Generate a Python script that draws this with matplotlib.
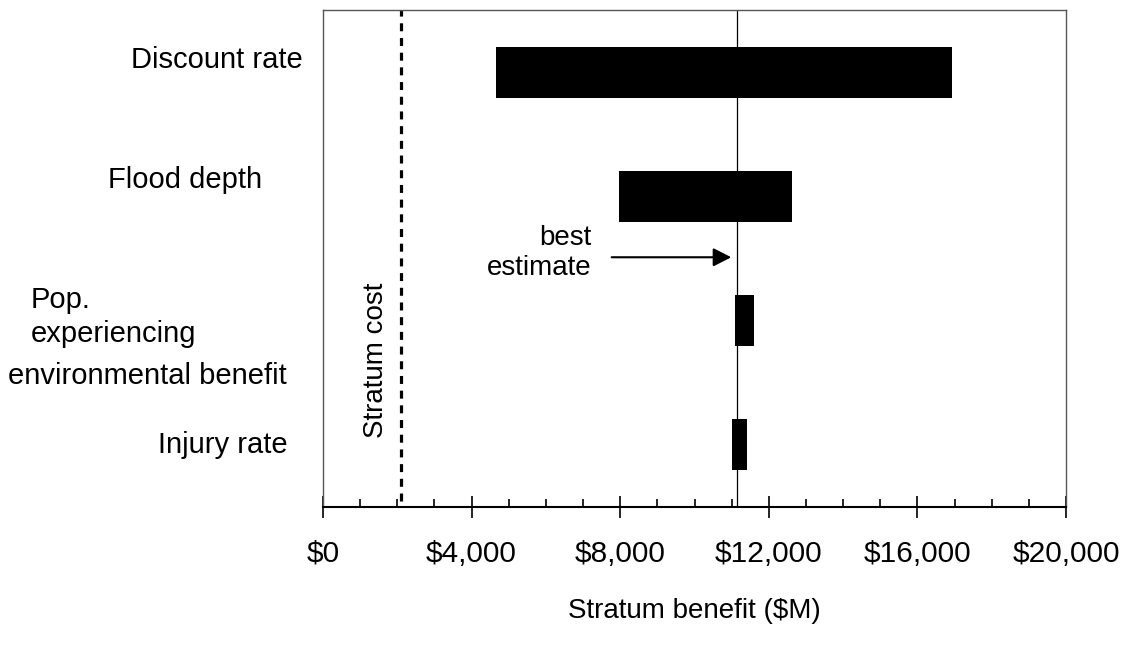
import matplotlib.pyplot as plt
from matplotlib.ticker import FuncFormatter, MultipleLocator

plt.rcParams['font.family'] = ['Liberation Sans', 'DejaVu Sans']

# Data
categories = ["Discount rate", "Flood depth",
              "Pop.\nexperiencing\nenvironmental benefit", "Injury rate"]
low_values = [4670, 7980, 11080, 11000]
high_values = [16930, 12630, 11610, 11420]
best_estimate = 11150
stratum_cost = 2110
x_ticks = [0, 4000, 8000, 12000, 16000, 20000]

W, H = 1131, 649
fig = plt.figure(figsize=(W / 100, H / 100), dpi=100)
ax = fig.add_axes([323 / W, 1 - 507 / H, 743 / W, 497 / H])

y_pos = list(range(len(categories)))
widths = [h - l for l, h in zip(low_values, high_values)]
ax.barh(y_pos, widths, left=low_values, height=0.41, color='black', zorder=3)

ax.axvline(best_estimate, color='black', lw=0.9, zorder=2)
ax.axvline(stratum_cost, ymin=0.012, ymax=1, color='black', lw=2.3,
           dashes=(2.5, 2.1), zorder=2)

ax.set_xlim(0, 20000)
ax.set_ylim(3.5, -0.5)
ax.set_yticks([])

ax.set_xticks(x_ticks)
ax.xaxis.set_minor_locator(MultipleLocator(1000))
ax.xaxis.set_major_formatter(FuncFormatter(lambda v, p: "${:,.0f}".format(v)))
ax.tick_params(axis='x', which='major', direction='inout', length=16,
               width=1.2, labelsize=21.5, pad=15.5)
ax.tick_params(axis='x', which='minor', direction='in', length=6, width=1.2)
ax.set_xlabel("Stratum benefit ($M)", fontsize=20, labelpad=22)

for side in ['left', 'top', 'right']:
    ax.spines[side].set_color('#555555')
    ax.spines[side].set_linewidth(1.0)
ax.spines['bottom'].set_linewidth(1.5)

# Category labels (hand placed like the original)
label_spots = [(303, 68, 'right'), (262, 188, 'right'),
               (31, 308, 'left'), (31, 342, 'left'), (8, 384, 'left'),
               (288, 453, 'right')]
lines = []
for c in categories:
    lines += c.split("\n")
for text, (px, py, ha) in zip(lines, label_spots):
    fig.text(px / W, 1 - py / H, text, fontsize=21, ha=ha, va='baseline')

# Annotations
ax.text(1430, 2.32, "Stratum cost", rotation=90, fontsize=20,
        ha='center', va='center')
ax.text(7230, 1.456, "best\nestimate", fontsize=20, ha='right',
        va='center', multialignment='right')
ax.annotate('', xy=(10990, 1.49), xytext=(7770, 1.49),
            arrowprops=dict(arrowstyle='-|>,head_length=0.55,head_width=0.28',
                            mutation_scale=20, color='black', lw=1.5,
                            shrinkA=0, shrinkB=0))

fig.savefig("out.png", dpi=100)
